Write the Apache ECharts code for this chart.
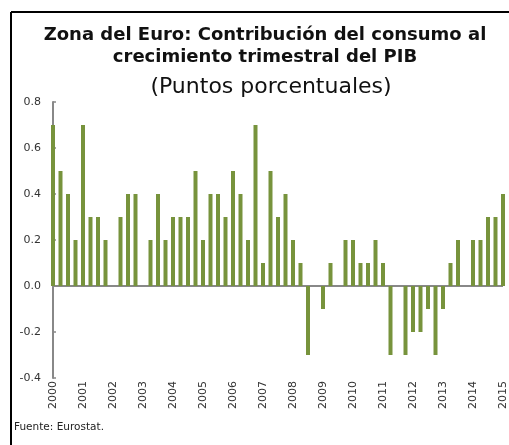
<!DOCTYPE html>
<html>
<head>
<meta charset="utf-8">
<script src="https://cdn.jsdelivr.net/npm/echarts@6/dist/echarts.min.js"></script>
<style>
  html, body { margin: 0; padding: 0; background: #fff; overflow: hidden; }
  #chart { width: 509px; height: 445px; }
</style>
</head>
<body>
<div id="chart"></div>
<script>
// trimestres 2000T1 .. 2015T1
var years = ["2000", "2001", "2002", "2003", "2004", "2005", "2006", "2007",
  "2008", "2009", "2010", "2011", "2012", "2013", "2014", "2015"];
var quarters = [];
years.forEach(function (y) {
  for (var q = 1; q <= 4; q++) quarters.push(y + "-T" + q);
});
quarters = quarters.slice(0, 61);

var consumo = [
  0.7, 0.5, 0.4, 0.2,   // 2000
  0.7, 0.3, 0.3, 0.2,   // 2001
  0.0, 0.3, 0.4, 0.4,   // 2002
  0.0, 0.2, 0.4, 0.2,   // 2003
  0.3, 0.3, 0.3, 0.5,   // 2004
  0.2, 0.4, 0.4, 0.3,   // 2005
  0.5, 0.4, 0.2, 0.7,   // 2006
  0.1, 0.5, 0.3, 0.4,   // 2007
  0.2, 0.1, -0.3, 0.0,  // 2008
  -0.1, 0.1, 0.0, 0.2,  // 2009
  0.2, 0.1, 0.1, 0.2,   // 2010
  0.1, -0.3, 0.0, -0.3, // 2011
  -0.2, -0.2, -0.1, -0.3, // 2012
  -0.1, 0.1, 0.2, 0.0,  // 2013
  0.2, 0.2, 0.3, 0.3,   // 2014
  0.4                   // 2015
];
var yTicks = { min: -0.4, max: 0.8, step: 0.2 };

var font = "DejaVu Sans";
var chart = echarts.init(document.getElementById("chart"));
var option = {
  animation: false,
  backgroundColor: "#fff",
  // marco del recuadro (solo bordes superior e izquierdo visibles)
  graphic: [
    { type: "line", shape: { x1: 11, y1: 12, x2: 509, y2: 12 }, style: { stroke: "#000", lineWidth: 2 } },
    { type: "line", shape: { x1: 11, y1: 12, x2: 11, y2: 445 }, style: { stroke: "#000", lineWidth: 2 } }
  ],
  title: [
    {
      text: "Zona del Euro: Contribución del consumo al\ncrecimiento trimestral del PIB",
      left: 265,
      top: 24,
      padding: 0,
      textAlign: "center",
      textStyle: {
        fontFamily: font,
        fontSize: 18,
        fontWeight: "bold",
        color: "#111",
        lineHeight: 22
      }
    },
    {
      text: "(Puntos porcentuales)",
      left: 271,
      top: 76,
      padding: 0,
      textAlign: "center",
      textStyle: {
        fontFamily: font,
        fontSize: 22,
        fontWeight: "normal",
        color: "#111"
      }
    },
    {
      text: "Fuente: Eurostat.",
      left: 14,
      top: 422,
      padding: 0,
      textStyle: {
        fontFamily: font,
        fontSize: 10.5,
        fontWeight: "normal",
        color: "#222"
      }
    }
  ],
  grid: {
    left: 53,
    right: 6,
    top: 102,
    bottom: 67,
    containLabel: false
  },
  xAxis: {
    type: "category",
    data: quarters,
    boundaryGap: false,
    axisLine: { show: false, onZero: false },
    axisTick: { show: false },
    axisLabel: {
      interval: 3,
      rotate: 90,
      margin: 3,
      fontFamily: font,
      fontSize: 11,
      color: "#333",
      formatter: function (v) { return v.slice(0, 4); }
    }
  },
  yAxis: {
    type: "value",
    min: yTicks.min,
    max: yTicks.max,
    interval: yTicks.step,
    splitLine: { show: false },
    axisLine: { show: true, lineStyle: { color: "#888", width: 2 } },
    axisTick: { show: true, inside: true, length: 3, lineStyle: { color: "#888", width: 1.5 } },
    axisLabel: {
      margin: 12,
      fontFamily: font,
      fontSize: 11,
      color: "#333",
      formatter: function (v) { return v.toFixed(1); }
    }
  },
  series: [
    {
      name: "Consumo",
      type: "bar",
      data: consumo,
      barWidth: 4,
      itemStyle: { color: "#77933C" },
      markLine: {
        silent: true,
        symbol: "none",
        label: { show: false },
        lineStyle: { color: "#888", width: 2, type: "solid" },
        data: [{ yAxis: 0 }],
        z: 1
      }
    }
  ]
};
chart.setOption(option);
</script>
</body>
</html>
